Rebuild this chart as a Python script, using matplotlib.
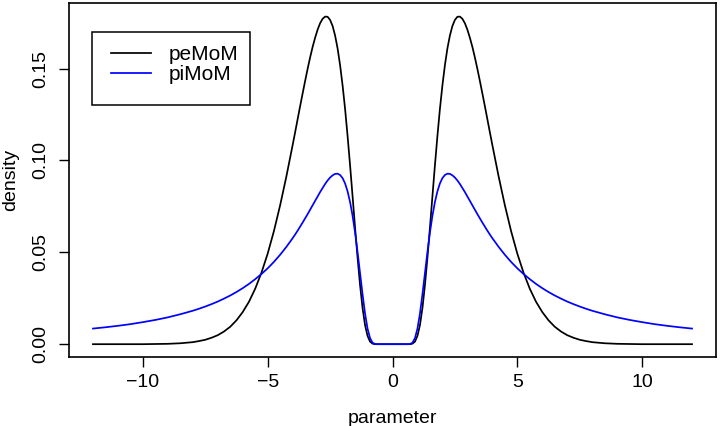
import matplotlib
matplotlib.use('Agg')
import matplotlib.pyplot as plt
from matplotlib.patches import Rectangle

plt.rcParams['font.family'] = ['Liberation Sans', 'DejaVu Sans']

# parameter values (x)
x = [-12.0, -11.5, -11.0, -10.5, -10.0, -9.5, -9.0, -8.5, -8.0, -7.75, -7.5, -7.25, -7.0,
     -6.75, -6.5, -6.25, -6.0, -5.75, -5.5, -5.25, -5.0, -4.75, -4.5, -4.25, -4.0,
     -3.9, -3.8, -3.7, -3.6, -3.5, -3.4, -3.3, -3.2, -3.1, -3.0, -2.9, -2.8, -2.7, -2.6,
     -2.5, -2.4, -2.3, -2.2, -2.1, -2.0, -1.9, -1.8, -1.7, -1.6, -1.5, -1.4, -1.3, -1.2,
     -1.1, -1.0, -0.9, -0.8, -0.7, -0.6, -0.5,
     0.0,
     0.5, 0.6, 0.7, 0.8, 0.9, 1.0, 1.1, 1.2, 1.3, 1.4, 1.5, 1.6, 1.7, 1.8, 1.9, 2.0,
     2.1, 2.2, 2.3, 2.4, 2.5, 2.6, 2.7, 2.8, 2.9, 3.0, 3.1, 3.2, 3.3, 3.4, 3.5, 3.6,
     3.7, 3.8, 3.9, 4.0, 4.25, 4.5, 4.75, 5.0, 5.25, 5.5, 5.75, 6.0, 6.25, 6.5, 6.75,
     7.0, 7.25, 7.5, 7.75, 8.0, 8.5, 9.0, 9.5, 10.0, 10.5, 11.0, 11.5, 12.0]

# peMoM density values
pemom = [0.0000, 0.0000, 0.0000, 0.0000, 0.0000, 0.0001, 0.0002, 0.0005, 0.0011, 0.0017,
         0.0024, 0.0035, 0.0049, 0.0069, 0.0095, 0.0130, 0.0175, 0.0231, 0.0302, 0.0389,
         0.0493, 0.0616, 0.0757, 0.0914, 0.1084, 0.1154, 0.1225, 0.1296, 0.1365, 0.1433,
         0.1499, 0.1561, 0.1618, 0.1668, 0.1712, 0.1747, 0.1771, 0.1783, 0.1782, 0.1765,
         0.1732, 0.1680, 0.1610, 0.1519, 0.1409, 0.1281, 0.1134, 0.0974, 0.0806, 0.0635,
         0.0471, 0.0322, 0.0197, 0.0104, 0.0045, 0.0014, 0.0003, 0.0000, 0.0000, 0.0000,
         0.0000,
         0.0000, 0.0000, 0.0000, 0.0003, 0.0014, 0.0045, 0.0104, 0.0197, 0.0322, 0.0471,
         0.0635, 0.0806, 0.0974, 0.1134, 0.1281, 0.1409, 0.1519, 0.1610, 0.1680, 0.1732,
         0.1765, 0.1782, 0.1783, 0.1771, 0.1747, 0.1712, 0.1668, 0.1618, 0.1561, 0.1499,
         0.1433, 0.1365, 0.1296, 0.1225, 0.1154, 0.1084, 0.0914, 0.0757, 0.0616, 0.0493,
         0.0389, 0.0302, 0.0231, 0.0175, 0.0130, 0.0095, 0.0069, 0.0049, 0.0035, 0.0024,
         0.0017, 0.0011, 0.0005, 0.0002, 0.0001, 0.0000, 0.0000, 0.0000, 0.0000, 0.0000]

# piMoM density values
pimom = [0.0085, 0.0092, 0.0100, 0.0109, 0.0120, 0.0132, 0.0146, 0.0163, 0.0182, 0.0193,
         0.0205, 0.0218, 0.0232, 0.0248, 0.0265, 0.0284, 0.0305, 0.0328, 0.0354, 0.0382,
         0.0413, 0.0448, 0.0487, 0.0530, 0.0577, 0.0597, 0.0618, 0.0640, 0.0662, 0.0685,
         0.0708, 0.0732, 0.0756, 0.0780, 0.0804, 0.0828, 0.0850, 0.0872, 0.0891, 0.0907,
         0.0919, 0.0927, 0.0928, 0.0921, 0.0904, 0.0875, 0.0832, 0.0774, 0.0699, 0.0608,
         0.0502, 0.0387, 0.0272, 0.0167, 0.0085, 0.0033, 0.0008, 0.0001, 0.0000, 0.0000,
         0.0000,
         0.0000, 0.0000, 0.0001, 0.0008, 0.0033, 0.0085, 0.0167, 0.0272, 0.0387, 0.0502,
         0.0608, 0.0699, 0.0774, 0.0832, 0.0875, 0.0904, 0.0921, 0.0928, 0.0927, 0.0919,
         0.0907, 0.0891, 0.0872, 0.0850, 0.0828, 0.0804, 0.0780, 0.0756, 0.0732, 0.0708,
         0.0685, 0.0662, 0.0640, 0.0618, 0.0597, 0.0577, 0.0530, 0.0487, 0.0448, 0.0413,
         0.0382, 0.0354, 0.0328, 0.0305, 0.0284, 0.0265, 0.0248, 0.0232, 0.0218, 0.0205,
         0.0193, 0.0182, 0.0163, 0.0146, 0.0132, 0.0120, 0.0109, 0.0100, 0.0092, 0.0085]

series_names = ['peMoM', 'piMoM']
xticks = [-10, -5, 0, 5, 10]
xtick_labels = ['\u221210', '\u22125', '0', '5', '10']
yticks = [0.00, 0.05, 0.10, 0.15]
ytick_labels = ['0.00', '0.05', '0.10', '0.15']

W, H = 726, 426
fig = plt.figure(figsize=(W / 100, H / 100), dpi=100)
ax = fig.add_axes([69 / W, 1 - 357.3 / H, (716 - 69) / W, (357.3 - 3.3) / H])

ax.plot(x, pemom, color='black', lw=1.25, label=series_names[0])
ax.plot(x, pimom, color='blue', lw=1.25, label=series_names[1])

ax.set_xlim(-12.96, 12.96)
ax.set_ylim(-0.00714, 0.18554)
ax.set_xticks(xticks)
ax.set_xticklabels(xtick_labels)
ax.set_yticks(yticks)
ax.set_yticklabels(ytick_labels, rotation=90, va='center')
ax.tick_params(direction='out', length=7.2, width=1.0, labelsize=14, colors='black')
ax.tick_params(axis='x', pad=4.5)
ax.tick_params(axis='y', pad=7)
for s in ax.spines.values():
    s.set_linewidth(1.2)
    s.set_color('black')

fig.text(392 / W, 1 - 423 / H, 'parameter', ha='center', va='baseline', fontsize=14)
fig.text(2 / W, 1 - 180 / H, 'density', rotation=90, ha='left', va='center', fontsize=14)

leg = ax.legend(loc='upper left', bbox_to_anchor=(111 / W, 1 - 45 / H),
                bbox_transform=fig.transFigure, frameon=False, fontsize=15,
                handlelength=1.92, handletextpad=0.85, borderpad=0, borderaxespad=0,
                labelspacing=0.05)
fig.add_artist(Rectangle((92.3 / W, 1 - 105 / H), 158 / W, 73.3 / H,
                         transform=fig.transFigure, fill=False, ec='black', lw=1.1))

fig.savefig('out.png', dpi=100)
